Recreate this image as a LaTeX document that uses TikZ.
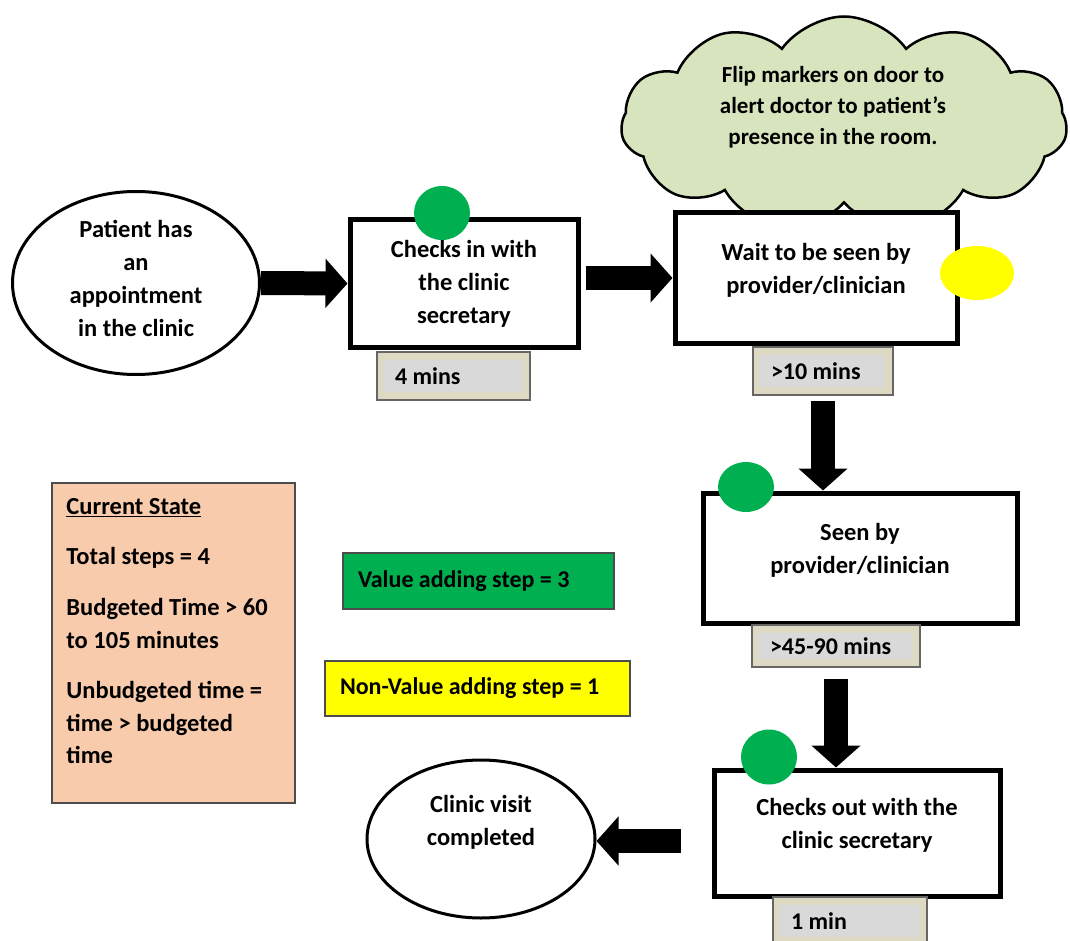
\documentclass[tikz,border=0pt]{standalone}
\usepackage{fontspec}
\setmainfont{Carlito}
\usetikzlibrary{shapes.geometric,shapes.symbols,arrows.meta}
\definecolor{vgreen}{HTML}{00B050}
\definecolor{vyellow}{HTML}{FFFF00}
\definecolor{cloudgreen}{HTML}{D7E4BD}
\definecolor{peach}{HTML}{F8CBAD}
\definecolor{tanbg}{HTML}{DDD9C3}
\definecolor{innergrey}{HTML}{D9D9D9}
\begin{document}
\begin{tikzpicture}[x=1pt,y=-1pt,
  txt/.style={font=\fontsize{24.5}{33}\selectfont\bfseries, align=center},
  ell/.style={ellipse, draw, line width=3pt, fill=white, inner sep=0pt, txt},
  stepbox/.style={rectangle, draw, line width=5pt, fill=white, txt},
  lift/.style={text depth=19pt},
  timebox/.style={rectangle, draw=black!60, line width=1.5pt, fill=tanbg, inner xsep=18pt, inner ysep=0pt,
    font=\fontsize{24}{28}\selectfont\bfseries, align=flush left,
    path picture={\fill[innergrey] ([shift={(6,8)}]path picture bounding box.north west) rectangle ([shift={(-8,-8)}]path picture bounding box.south east);}},
  fat/.style={line width=24pt, -{Triangle[length=22pt,width=48pt]}},
  dot/.style={ellipse, inner sep=0pt},
  legend/.style={rectangle, draw=black!70, line width=1.5pt, inner xsep=15pt, align=flush left, font=\fontsize{24}{28}\selectfont\bfseries}
]
\useasboundingbox (0,0) rectangle (1070,941);
\fill[white] (0,0) rectangle (1070,941);

% cloud
\node[cloud, cloud puffs=11, cloud puff arc=110, aspect=2.1, draw, line width=2.5pt, fill=cloudgreen,
  minimum width=446pt, minimum height=215pt, inner sep=0pt] (cl) at (844,124) {};
\node[txt, font=\fontsize{23}{31}\selectfont\bfseries] (clt) at (833,107) {Flip markers on door to\\alert doctor to patient’s\\presence in the room.};

% main nodes
\node[ell, minimum width=247pt, minimum height=183pt, text depth=9pt] (e1) at (136,283) {Patient has\\an\\appointment\\in the clinic};
\node[stepbox, minimum width=228pt, minimum height=127pt] (b1) at (464,283.5) {Checks in with\\the clinic\\secretary};
\node[stepbox, lift, minimum width=282pt, minimum height=130pt] (b2) at (816,278) {Wait to be seen by\\provider/clinician};
\node[stepbox, lift, minimum width=314pt, minimum height=130pt] (b3) at (860,558) {Seen by\\provider/clinician};
\node[stepbox, lift, minimum width=286pt, minimum height=126pt] (b4) at (857,833) {Checks out with the\\clinic secretary};
\node[ell, minimum width=228pt, minimum height=158pt, text depth=37pt] (e2) at (481,839) {Clinic visit\\completed};

% time boxes
\node[timebox, minimum width=153pt, minimum height=48pt, text width=117pt] (t1) at (453.5,376) {4 mins};
\node[timebox, minimum width=140pt, minimum height=48pt, text width=104pt] (t2) at (823,371) {>10 mins};
\node[timebox, minimum width=168pt, minimum height=42pt, text width=132pt] (t3) at (836,646) {>45-90 mins};
\node[timebox, minimum width=154pt, minimum height=48pt, text width=118pt] (t4) at (850,921) {1 min};

% markers
\node[dot, fill=vgreen, minimum width=56pt, minimum height=54pt] (g1) at (442,213) {};
\node[dot, fill=vyellow, minimum width=74pt, minimum height=54pt] (y2) at (977,273) {};
\node[dot, fill=vgreen, minimum width=56pt, minimum height=50pt] (g3) at (746,487) {};
\node[dot, fill=vgreen, minimum width=56pt, minimum height=55pt] (g4) at (769,757) {};

% arrows
\draw[fat] (e1.east) -- (b1.west);
\draw[fat] ([xshift=5pt]b1.east |- b2.west) -- (b2.west);
\draw[fat, shorten <=5pt] (t2.south) -- (t2.south |- b3.north);
\draw[fat, shorten <=11pt] (t3.south) -- (t3.south |- b4.north);
\coordinate (a5) at ([yshift=-8pt]b4.west);
\draw[fat, shorten <=31pt] (a5) -- (a5 -| e2.east);

% legend
\node[legend, fill=vgreen, minimum width=271pt, minimum height=56pt, text width=241pt] (va) at (478.5,581) {Value adding step = 3};
\node[legend, fill=vyellow, minimum width=305pt, minimum height=55pt, text width=275pt] (nva) at (477.5,688.5) {Non-Value adding step = 1};

% current state
\node[rectangle, draw=black!70, line width=1.5pt, fill=peach, minimum width=243pt, minimum height=320pt, inner sep=0pt] (cs) at (173.5,643) {};
\node[anchor=north west, align=flush left, inner sep=0pt, font=\fontsize{24.5}{32.5}\selectfont\bfseries] (cst) at ([shift={(15,16)}]cs.north west)
  {\underline{Current State}\\[17pt]Total steps = 4\\[19pt]Budgeted Time > 60\\to 105 minutes\\[18pt]Unbudgeted time =\\time > budgeted\\time};
\end{tikzpicture}
\end{document}
